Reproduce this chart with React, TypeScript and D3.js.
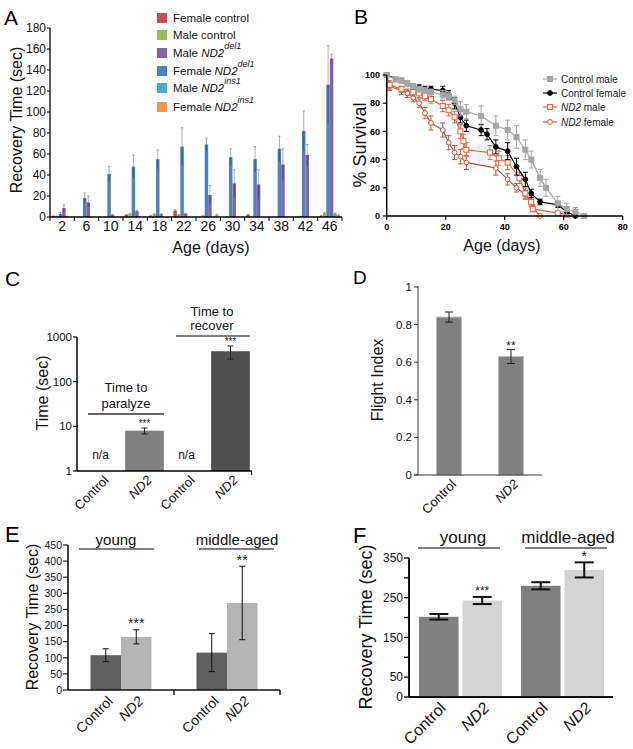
import React from 'react';
import * as d3 from 'd3';

const FONT = "'Liberation Sans', Arial, Helvetica, sans-serif";

// ---------------- Panel A data ----------------
const ageGroups = ['2', '6', '10', '14', '18', '22', '26', '30', '34', '38', '42', '46'];
const femaleControl = [0.8, 0, 0, 2, 1.2, 6, 0, 0, 2, 0, 0, 1];
const femaleControlErr = [0.4, 0, 0, 0.5, 0.5, 1, 0, 0, 0.5, 0, 0, 0.5];
const maleControl = [0.5, 0, 0, 3, 2.5, 2, 1, 0, 0, 0, 0.5, 3.5];
const maleControlErr = [0.3, 0, 0, 0.5, 0.5, 0.5, 0.3, 0, 0, 0, 0.3, 1];
const femaleND2del1 = [3, 18, 41, 48, 55, 67, 69, 57, 55, 65, 82, 126];
const femaleND2del1Err = [1.5, 5, 7, 11, 9, 18, 6, 8, 12, 12, 19, 37];
const maleND2del1 = [8.5, 14, 2, 5.5, 2.5, 3, 21, 32, 31, 50, 59, 151];
const maleND2del1Err = [3, 6, 0.5, 1, 0.5, 0.5, 9, 13, 14, 15, 10, 4];
const maleND2ins1 = [0.5, 0, 0, 0, 0, 0, 0, 0, 0, 0, 0, 3];
const maleND2ins1Err = [0.2, 0, 0, 0, 0, 0, 0, 0, 0, 0, 0, 1];
const femaleND2ins1 = [0, 0, 0, 0, 0, 0, 2, 0, 0, 0, 0, 1.5];
const femaleND2ins1Err = [0, 0, 0, 0, 0, 0, 0.5, 0, 0, 0, 0, 0.5];
const yTicksA = [0, 20, 40, 60, 80, 100, 120, 140, 160, 180];

// ---------------- Panel B data ----------------
const cmDays = [0, 3, 5, 7, 9, 11, 13, 15, 19, 21, 23, 25, 27, 32, 37, 41, 44, 47, 49, 52, 54, 58, 61, 64, 67];
const cmPct = [100, 97, 96, 94, 92, 90, 89, 88, 86, 85, 82, 76, 74, 71, 64, 61, 56, 47, 40, 27, 20, 9, 5, 3, 0];
const cmErr = [0, 2, 2, 2, 2, 2, 2, 2, 3, 3, 3, 5, 5, 7, 7, 7, 8, 7, 6, 6, 6, 5, 4, 3, 0];
const cfDays = [0, 5, 7, 9, 11, 13, 15, 19, 21, 23, 25, 27, 32, 34, 37, 41, 44, 47, 49, 52, 58, 61, 64];
const cfPct = [100, 96, 94, 92, 91, 90, 90, 89, 86, 80, 70, 64, 61, 58, 49, 46, 35, 26, 16, 10, 8, 3, 0];
const cfErr = [0, 1, 1, 2, 2, 2, 2, 3, 3, 4, 4, 4, 4, 4, 5, 6, 6, 5, 3, 2, 2, 2, 0];
const nmDays = [0, 1, 5, 9, 11, 13, 15, 19, 21, 23, 25, 26, 27, 35, 38, 41, 45, 47, 49, 49.5, 58, 61];
const nmPct = [100, 93, 90, 88, 87, 85, 83, 78, 75, 70, 60, 53, 47, 45, 41, 38, 27, 16, 10, 5, 2, 1];
const nmErr = [0, 3, 2, 3, 3, 3, 3, 4, 4, 4, 5, 5, 5, 5, 5, 5, 4, 4, 3, 2, 1, 1];
const nfDays = [0, 1, 5, 7, 9, 11, 13, 15, 19, 21, 23, 25, 27, 37, 41, 44, 47, 49, 49.5, 52];
const nfPct = [100, 92, 89, 87, 84, 80, 73, 66, 61, 52, 45, 42, 38, 34, 26, 20, 15, 10, 6, 0];
const nfErr = [0, 3, 3, 3, 3, 3, 4, 5, 5, 5, 5, 5, 5, 5, 4, 3, 3, 3, 2, 0];
const xTicksB = [0, 20, 40, 60, 80];
const yTicksB = [0, 20, 40, 60, 80, 100];

// ---------------- Panel C data ----------------
const catsC = ['c1', 'n1', 'c2', 'n2'];
const labelsC = ['Control', 'ND2', 'Control', 'ND2'];
const valuesC = [null, 8, null, 480];
const errHiC = [null, 9.2, null, 630];
const errLoC = [null, 6.8, null, 320];
const yTicksC = [1, 10, 100, 1000];

// ---------------- Panel D data ----------------
const catsD = ['Control', 'ND2'];
const valuesD = [0.84, 0.63];
const errD = [0.027, 0.037];
const yTicksD = [0, 0.2, 0.4, 0.6, 0.8, 1];

// ---------------- Panel E data ----------------
const groupsE = ['young', 'middle-aged'];
const genotypes = ['Control', 'ND2'];
const valuesE = [[108, 165], [116, 270]];
const errE = [[20, 22], [59, 114]];
const yTicksE = [0, 50, 100, 150, 200, 250, 300, 350, 400, 450];

// ---------------- Panel F data ----------------
const valuesF = [[202, 243], [280, 320]];
const errF = [[7, 9], [9, 19]];
const yTicksF = [0, 50, 100, 150, 200, 250, 300, 350];
const yTickLabelsF = [0, 50, 150, 250, 350];

const colorsA: Record<string, string> = {
  fc: '#c0504d', mc: '#9bbb59', md: '#8064a2', fd: '#4f81bd', mi: '#4bacc6', fi: '#f79646',
};

const RotLabel = ({ x, y, text, size, italic }: any) => (
  <text transform={`translate(${x},${y}) rotate(-45)`} textAnchor="end" fontSize={size}
    fontStyle={italic ? 'italic' : 'normal'} fontFamily={FONT} fill="#111">{text}</text>
);

const Stars = ({ x, cy, size, text }: any) => (
  <text x={x} y={cy + size * 0.58} textAnchor="middle" fontSize={size} fontFamily={FONT} fill="#222">{text}</text>
);

function PanelA() {
  const series = [
    { key: 'fc', v: femaleControl, e: femaleControlErr },
    { key: 'mc', v: maleControl, e: maleControlErr },
    { key: 'fd', v: femaleND2del1, e: femaleND2del1Err },
    { key: 'md', v: maleND2del1, e: maleND2del1Err },
    { key: 'mi', v: maleND2ins1, e: maleND2ins1Err },
    { key: 'fi', v: femaleND2ins1, e: femaleND2ins1Err },
  ];
  const x = d3.scaleBand().domain(ageGroups).range([50, 342]);
  const bw = x.bandwidth();
  const inner = d3.scaleBand().domain(series.map(s => s.key)).range([(bw - 21) / 2, (bw + 21) / 2]);
  const y = d3.scaleLinear().domain([0, 180]).range([217, 28]);
  const legend = [
    { key: 'fc', pre: 'Female control' },
    { key: 'mc', pre: 'Male control' },
    { key: 'md', pre: 'Male ', it: 'ND2', sup: 'del1' },
    { key: 'fd', pre: 'Female ', it: 'ND2', sup: 'del1' },
    { key: 'mi', pre: 'Male ', it: 'ND2', sup: 'ins1' },
    { key: 'fi', pre: 'Female ', it: 'ND2', sup: 'ins1' },
  ];
  const boundaries = ageGroups.map(g => x(g)!).concat([x.range()[1]]);
  return (
    <g fontFamily={FONT}>
      <text x={4} y={25} fontSize={21} fill="#000">A</text>
      {series.map(s => ageGroups.map((g, i) => {
        const bx = x(g)! + inner(s.key)!;
        const w = inner.bandwidth();
        const v = s.v[i];
        if (v <= 0) return null;
        return (
          <g key={s.key + g}>
            <rect x={bx} y={y(v)} width={w} height={y(0) - y(v)} fill={colorsA[s.key]} />
            {s.e[i] > 0 && (
              <g stroke="rgba(0,0,0,0.32)" strokeWidth={1}>
                <line x1={bx + w / 2} x2={bx + w / 2} y1={y(Math.max(0, v - s.e[i]))} y2={y(v + s.e[i])} />
                <line x1={bx + w / 2 - 1.2} x2={bx + w / 2 + 1.2} y1={y(v + s.e[i])} y2={y(v + s.e[i])} />
              </g>
            )}
          </g>
        );
      }))}
      <line x1={50} x2={50} y1={28} y2={217} stroke="#000" strokeWidth={1.3} />
      <line x1={50} x2={342} y1={217} y2={217} stroke="#000" strokeWidth={1.3} />
      {yTicksA.map(t => (
        <g key={t}>
          <line x1={47} x2={50} y1={y(t)} y2={y(t)} stroke="#000" />
          <text x={46} y={y(t) + 4} textAnchor="end" fontSize={12} fill="#111">{t}</text>
        </g>
      ))}
      {boundaries.map((b, i) => <line key={i} x1={b} x2={b} y1={217} y2={221} stroke="#000" />)}
      {ageGroups.map(g => (
        <text key={g} x={x(g)! + bw / 2} y={231} textAnchor="middle" fontSize={14} fill="#111">{g}</text>
      ))}
      <text x={211} y={253} textAnchor="middle" fontSize={16} fill="#111">Age (days)</text>
      <text transform="translate(22,120) rotate(-90)" textAnchor="middle" fontSize={16} fill="#111">Recovery Time (sec)</text>
      {legend.map((l, i) => {
        const cy = [18, 35, 53, 71, 88, 107][i];
        return (
          <g key={l.key}>
            <rect x={157} y={cy - 5} width={10} height={10} fill={colorsA[l.key]} />
            <text x={173} y={cy + 4} fontSize={11.5} fill="#111">
              {l.pre}
              {l.it && <tspan fontStyle="italic">{l.it}</tspan>}
              {l.sup && <tspan fontStyle="italic" fontSize={9} dy={-8}>{l.sup}</tspan>}
            </text>
          </g>
        );
      })}
    </g>
  );
}

function PanelB() {
  const x = d3.scaleLinear().domain([0, 80]).range([386.7, 622.7]);
  const y = d3.scaleLinear().domain([0, 100]).range([216, 75]);
  const line = d3.line<[number, number]>().x(d => x(d[0])).y(d => y(d[1]));
  const series = [
    { name: 'Control male', d: cmDays, p: cmPct, e: cmErr, color: '#a5a5a5', marker: 'sq', fill: '#a5a5a5' },
    { name: 'Control female', d: cfDays, p: cfPct, e: cfErr, color: '#000000', marker: 'ci', fill: '#000' },
    { name: 'ND2 male', d: nmDays, p: nmPct, e: nmErr, color: '#f2603f', marker: 'sq', fill: '#fff' },
    { name: 'ND2 female', d: nfDays, p: nfPct, e: nfErr, color: '#b65a42', marker: 'ci', fill: '#fff' },
  ];
  const marker = (s: any, cx: number, cy: number, k: string) =>
    s.marker === 'sq'
      ? <rect key={k} x={cx - 2.5} y={cy - 2.5} width={5} height={5} fill={s.fill} stroke={s.color} strokeWidth={1} />
      : <circle key={k} cx={cx} cy={cy} r={2.4} fill={s.fill} stroke={s.color} strokeWidth={1} />;
  const drawOrder = [3, 2, 1, 0];
  return (
    <g fontFamily={FONT}>
      <text x={354} y={24} fontSize={21} fill="#000">B</text>
      {drawOrder.map(si => {
        const s = series[si];
        const pts = s.d.map((d, i) => [d, s.p[i]] as [number, number]);
        return (
          <g key={s.name}>
            {s.d.map((d, i) => s.e[i] > 0 && (
              <g key={i} stroke={s.color} strokeWidth={1}>
                <line x1={x(d)} x2={x(d)} y1={y(s.p[i] - s.e[i])} y2={y(s.p[i] + s.e[i])} />
                <line x1={x(d) - 2.5} x2={x(d) + 2.5} y1={y(s.p[i] + s.e[i])} y2={y(s.p[i] + s.e[i])} />
                <line x1={x(d) - 2.5} x2={x(d) + 2.5} y1={y(s.p[i] - s.e[i])} y2={y(s.p[i] - s.e[i])} />
              </g>
            ))}
            <path d={line(pts)!} fill="none" stroke={s.color} strokeWidth={1.2} />
            {pts.map((p, i) => marker(s, x(p[0]), y(p[1]), s.name + i))}
          </g>
        );
      })}
      <line x1={386.7} x2={386.7} y1={75} y2={216} stroke="#000" strokeWidth={1.5} />
      <line x1={386.7} x2={622.7} y1={216} y2={216} stroke="#000" strokeWidth={1.5} />
      {xTicksB.map(t => (
        <g key={t}>
          <line x1={x(t)} x2={x(t)} y1={216} y2={220} stroke="#000" strokeWidth={1.2} />
          <text x={x(t)} y={230} textAnchor="middle" fontSize={9} fontWeight="bold" fill="#000">{t}</text>
        </g>
      ))}
      {yTicksB.map(t => (
        <g key={t}>
          <line x1={382.7} x2={386.7} y1={y(t)} y2={y(t)} stroke="#000" strokeWidth={1.2} />
          <text x={380} y={y(t) + 3.2} textAnchor="end" fontSize={9} fontWeight="bold" fill="#000">{t}</text>
        </g>
      ))}
      <text x={502} y={251} textAnchor="middle" fontSize={16} fill="#111">Age (days)</text>
      <text transform="translate(366,145) rotate(-90)" textAnchor="middle" fontSize={18} fill="#111">% Survival</text>
      {series.map((s, i) => {
        const cy = [79, 93, 107, 122][i];
        const isND2 = s.name.startsWith('ND2');
        return (
          <g key={s.name}>
            <line x1={543} x2={557} y1={cy} y2={cy} stroke={s.color} strokeWidth={1.2} />
            {marker(s, 550, cy, 'lg' + i)}
            <text x={561} y={cy + 3.5} fontSize={10} fill="#222">
              {isND2 ? <><tspan fontStyle="italic">ND2</tspan>{s.name.slice(3)}</> : s.name}
            </text>
          </g>
        );
      })}
    </g>
  );
}

function PanelC() {
  const x = d3.scaleBand().domain(catsC).range([80, 252]).paddingInner(0.1).paddingOuter(0.05);
  const y = d3.scaleLog().domain([1, 1000]).range([471, 337]);
  const fills = ['#808080', '#808080', '#505050', '#505050'];
  return (
    <g fontFamily={FONT}>
      <text x={5} y={286} fontSize={21} fill="#000">C</text>
      {catsC.map((c, i) => {
        const v = valuesC[i];
        const cx = x(c)! + x.bandwidth() / 2;
        if (v == null) return <text key={c} x={cx - 1} y={459} textAnchor="middle" fontSize={12} fill="#111">n/a</text>;
        return (
          <g key={c}>
            <rect x={x(c)} y={y(v)} width={x.bandwidth()} height={471 - y(v)} fill={fills[i]} />
            <g stroke="#222" strokeWidth={1}>
              <line x1={cx} x2={cx} y1={y(errLoC[i]!)} y2={y(errHiC[i]!)} />
              <line x1={cx - 3} x2={cx + 3} y1={y(errLoC[i]!)} y2={y(errLoC[i]!)} />
              <line x1={cx - 3} x2={cx + 3} y1={y(errHiC[i]!)} y2={y(errHiC[i]!)} />
            </g>
            <Stars x={cx} cy={y(errHiC[i]!) - 7} size={10} text="***" />
          </g>
        );
      })}
      <line x1={77} x2={77} y1={337} y2={471} stroke="#000" strokeWidth={1.5} />
      <line x1={77} x2={252} y1={471} y2={471} stroke="#000" strokeWidth={1.5} />
      <line x1={251.5} x2={251.5} y1={471} y2={475} stroke="#000" strokeWidth={1.2} />
      {yTicksC.map(t => (
        <g key={t}>
          <line x1={73} x2={77} y1={y(t)} y2={y(t)} stroke="#000" strokeWidth={1.2} />
          <text x={72} y={y(t) + 4} textAnchor="end" fontSize={11.5} fill="#111">{t}</text>
        </g>
      ))}
      {catsC.map((c, i) => (
        <RotLabel key={c} x={x(c)! + x.bandwidth() / 2 + 8} y={481} text={labelsC[i]} size={13} italic={labelsC[i] === 'ND2'} />
      ))}
      <text transform="translate(48,393) rotate(-90)" textAnchor="middle" fontSize={16} fill="#111">Time (sec)</text>
      <text x={126} y={392} textAnchor="middle" fontSize={13} fill="#111">Time to</text>
      <text x={126} y={408} textAnchor="middle" fontSize={13} fill="#111">paralyze</text>
      <line x1={88} x2={164} y1={414} y2={414} stroke="#333" strokeWidth={1.3} />
      <text x={212} y={316} textAnchor="middle" fontSize={13} fill="#111">Time to</text>
      <text x={212} y={330} textAnchor="middle" fontSize={13} fill="#111">recover</text>
      <line x1={176} x2={250} y1={336} y2={336} stroke="#555" strokeWidth={1.3} />
    </g>
  );
}

function PanelD() {
  const x = d3.scaleBand().domain(catsD).range([418, 542]).paddingInner(0.6).paddingOuter(0.3);
  const y = d3.scaleLinear().domain([0, 1]).range([475, 287]);
  return (
    <g fontFamily={FONT}>
      <text x={353} y={284} fontSize={19} fill="#000">D</text>
      {catsD.map((c, i) => {
        const cx = x(c)! + x.bandwidth() / 2;
        const v = valuesD[i];
        return (
          <g key={c}>
            <rect x={x(c)} y={y(v)} width={x.bandwidth()} height={475 - y(v)} fill="#808080" stroke="#b8b8b8" strokeWidth={1} />
            <g stroke="#222" strokeWidth={1}>
              <line x1={cx} x2={cx} y1={y(v - errD[i])} y2={y(v + errD[i])} />
              <line x1={cx - 4} x2={cx + 4} y1={y(v - errD[i])} y2={y(v - errD[i])} />
              <line x1={cx - 4} x2={cx + 4} y1={y(v + errD[i])} y2={y(v + errD[i])} />
            </g>
            {i === 1 && <Stars x={cx} cy={343} size={12} text="**" />}
            <RotLabel x={cx + 8} y={485} text={c} size={13} italic={c === 'ND2'} />
          </g>
        );
      })}
      <line x1={418} x2={418} y1={286} y2={475} stroke="#333" strokeWidth={1} />
      <line x1={414} x2={542} y1={475} y2={475} stroke="#333" strokeWidth={1} />
      {yTicksD.map(t => (
        <g key={t}>
          <line x1={414} x2={418} y1={y(t)} y2={y(t)} stroke="#333" />
          <text x={412} y={y(t) + 4} textAnchor="end" fontSize={11.5} fill="#111">{t}</text>
        </g>
      ))}
      <text transform="translate(383,380) rotate(-90)" textAnchor="middle" fontSize={16} fill="#111">Flight Index</text>
    </g>
  );
}

function GroupedPanel({ top, yMax, yRange, xRange, innerRange, values, errs, colors, ticks, tickLabels,
  axisW, capW, errW, fontTick, fontLbl, label, labelPos, yTitle, titlePos, titleSize, groupLine,
  groupFont, starSizes, stars, labelOffset, gap, barStroke }: any) {
  const xo = d3.scaleBand().domain(groupsE).range(xRange);
  const xi = d3.scaleBand().domain(genotypes).range(innerRange).paddingInner(gap);
  const y = d3.scaleLinear().domain([0, yMax]).range(yRange);
  const y0 = yRange[0];
  return (
    <g fontFamily={FONT}>
      <text x={labelPos[0]} y={labelPos[1]} fontSize={22} fill="#000">{label}</text>
      {groupsE.map((g, gi) => genotypes.map((gt, k) => {
        const bx = xo(g)! + xi(gt)!;
        const w = xi.bandwidth();
        const cx = bx + w / 2;
        const v = values[gi][k];
        const e = errs[gi][k];
        return (
          <g key={g + gt}>
            <rect x={bx} y={y(v)} width={w} height={y0 - y(v)} fill={colors[k]} stroke={barStroke} strokeWidth={barStroke ? 1 : 0} />
            <g stroke="#111" strokeWidth={errW}>
              <line x1={cx} x2={cx} y1={y(v - e)} y2={y(v + e)} />
              <line x1={cx - capW / 2} x2={cx + capW / 2} y1={y(v - e)} y2={y(v - e)} />
              <line x1={cx - capW / 2} x2={cx + capW / 2} y1={y(v + e)} y2={y(v + e)} />
            </g>
            {k === 1 && <Stars x={cx} cy={y(v + e) - starSizes[gi] * 0.55 - 2} size={starSizes[gi]} text={stars[gi]} />}
            <RotLabel x={cx + labelOffset[0]} y={y0 + labelOffset[1]} text={gt} size={fontLbl} italic={gt === 'ND2'} />
          </g>
        );
      }))}
      {groupsE.map((g, gi) => (
        <g key={g}>
          <text x={groupLine[gi][2]} y={groupLine[gi][3]} textAnchor="middle" fontSize={groupFont} fill="#111">{g}</text>
          <line x1={groupLine[gi][0]} x2={groupLine[gi][1]} y1={groupLine[gi][4]} y2={groupLine[gi][4]} stroke="#555" strokeWidth={1.6} />
        </g>
      ))}
      <line x1={xRange[0]} x2={xRange[0]} y1={yRange[1]} y2={y0} stroke="#111" strokeWidth={axisW} />
      <line x1={xRange[0]} x2={xRange[1]} y1={y0} y2={y0} stroke="#111" strokeWidth={axisW} />
      {ticks.map((t: number) => (
        <g key={t}>
          <line x1={xRange[0] - 5} x2={xRange[0]} y1={y(t)} y2={y(t)} stroke="#111" strokeWidth={axisW * 0.7} />
          {tickLabels.includes(t) && <text x={xRange[0] - 6} y={y(t) + fontTick * 0.36} textAnchor="end" fontSize={fontTick} fill="#111">{t}</text>}
        </g>
      ))}
      <text transform={`translate(${titlePos[0]},${titlePos[1]}) rotate(-90)`} textAnchor="middle" fontSize={titleSize} fill="#111">{yTitle}</text>
    </g>
  );
}

export default function App() {
  return (
    <svg width={633} height={749} style={{ position: 'absolute', left: 0, top: 0, background: '#fff' }}>
      <rect width={633} height={749} fill="#fff" />
      <PanelA />
      <PanelB />
      <PanelC />
      <PanelD />
      <GroupedPanel
        label="E" labelPos={[5, 542]} yMax={450} yRange={[690, 545]} xRange={[68, 280]} innerRange={[22.5, 83.5]} gap={0}
        values={valuesE} errs={errE} colors={['#606060', '#b4b4b4']} ticks={yTicksE} tickLabels={yTicksE}
        axisW={1.6} capW={6} errW={1} fontTick={10.5} fontLbl={14} yTitle="Recovery Time (sec)" titlePos={[38, 617]} titleSize={16}
        groupLine={[[79, 154, 116, 545, 549], [199, 274, 237, 545, 549]]} groupFont={15}
        starSizes={[14, 14]} stars={['***', '**']} labelOffset={[8, 12]} barStroke={null} />
      <line x1={174} x2={174} y1={690} y2={695} stroke="#111" strokeWidth={1.4} />
      <line x1={280} x2={280} y1={690} y2={695} stroke="#111" strokeWidth={1.4} />
      <GroupedPanel
        label="F" labelPos={[353, 543]} yMax={350} yRange={[697, 558]} xRange={[409, 613]} innerRange={[10, 93]} gap={0.09}
        values={valuesF} errs={errF} colors={['#808080', '#d4d4d4']} ticks={yTicksF} tickLabels={yTickLabelsF}
        axisW={2} capW={19} errW={2} fontTick={12} fontLbl={16} yTitle="Recovery Time (sec)" titlePos={[372, 627]} titleSize={18}
        groupLine={[[418, 500, 463, 543, 548], [525, 607, 568, 543, 548]]} groupFont={17}
        starSizes={[12, 14]} stars={['***', '*']} labelOffset={[8, 12]} barStroke={null} />
    </svg>
  );
}
